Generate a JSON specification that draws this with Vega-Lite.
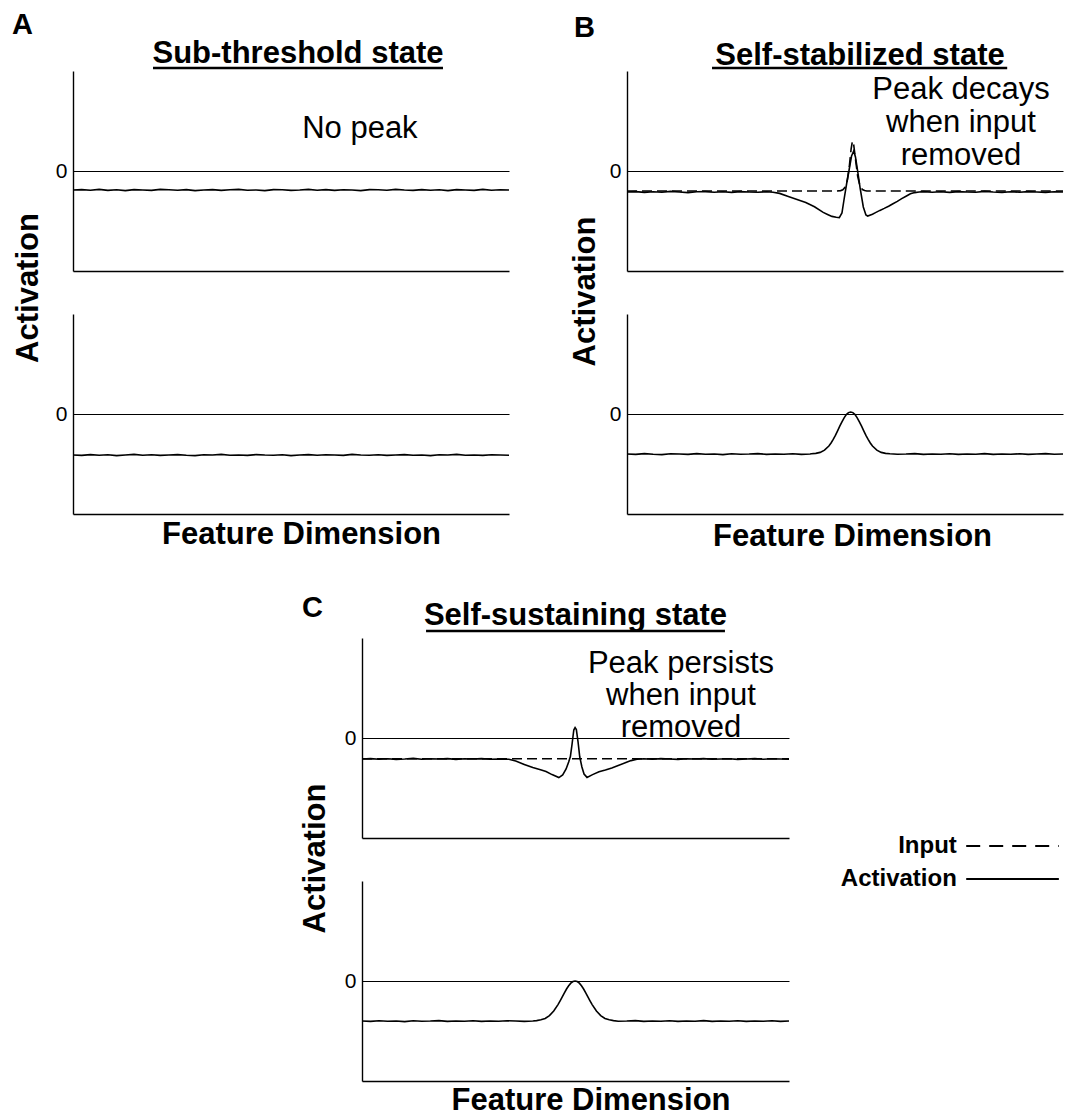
{
  "$schema": "https://vega.github.io/schema/vega-lite/v6.json",
  "background": "white",
  "padding": {"left": 12, "top": 11, "right": 5, "bottom": 5},
  "config": {
    "font": "Liberation Sans",
    "view": {"stroke": null},
    "axis": {"domainColor": "black", "domainWidth": 1.4, "labelColor": "black", "labelFontSize": 21, "labelPadding": 6, "ticks": false, "gridColor": "black", "gridWidth": 1, "gridOpacity": 1, "titleColor": "black", "titleFontSize": 31, "titleFontWeight": "bold"},
    "title": {"color": "black", "fontWeight": "bold"},
    "text": {"color": "black"}
  },
  "datasets": {
    "a1": [{"x":0,"y":-0.95},{"x":2,"y":-0.93},{"x":4,"y":-0.96},{"x":6,"y":-0.92},{"x":8,"y":-0.97},{"x":10,"y":-0.94},{"x":12,"y":-0.98},{"x":14,"y":-0.93},{"x":16,"y":-0.95},{"x":18,"y":-0.97},{"x":20,"y":-0.92},{"x":22,"y":-0.94},{"x":24,"y":-0.96},{"x":26,"y":-0.93},{"x":28,"y":-0.98},{"x":30,"y":-0.95},{"x":32,"y":-0.93},{"x":34,"y":-0.97},{"x":36,"y":-0.94},{"x":38,"y":-0.92},{"x":40,"y":-0.96},{"x":42,"y":-0.95},{"x":44,"y":-0.98},{"x":46,"y":-0.93},{"x":48,"y":-0.94},{"x":50,"y":-0.97},{"x":52,"y":-0.95},{"x":54,"y":-0.92},{"x":56,"y":-0.96},{"x":58,"y":-0.93},{"x":60,"y":-0.97},{"x":62,"y":-0.94},{"x":64,"y":-0.95},{"x":66,"y":-0.98},{"x":68,"y":-0.93},{"x":70,"y":-0.94},{"x":72,"y":-0.96},{"x":74,"y":-0.92},{"x":76,"y":-0.95},{"x":78,"y":-0.97},{"x":80,"y":-0.93},{"x":82,"y":-0.96},{"x":84,"y":-0.94},{"x":86,"y":-0.98},{"x":88,"y":-0.93},{"x":90,"y":-0.95},{"x":92,"y":-0.97},{"x":94,"y":-0.92},{"x":96,"y":-0.96},{"x":98,"y":-0.94},{"x":100,"y":-0.95}],
    "a2": [{"x":0,"y":-2.05},{"x":2,"y":-2.07},{"x":4,"y":-2.03},{"x":6,"y":-2.06},{"x":8,"y":-2.04},{"x":10,"y":-2.08},{"x":12,"y":-2.05},{"x":14,"y":-2.02},{"x":16,"y":-2.06},{"x":18,"y":-2.04},{"x":20,"y":-2.07},{"x":22,"y":-2.05},{"x":24,"y":-2.03},{"x":26,"y":-2.06},{"x":28,"y":-2.08},{"x":30,"y":-2.04},{"x":32,"y":-2.05},{"x":34,"y":-2.02},{"x":36,"y":-2.06},{"x":38,"y":-2.05},{"x":40,"y":-2.07},{"x":42,"y":-2.03},{"x":44,"y":-2.05},{"x":46,"y":-2.06},{"x":48,"y":-2.04},{"x":50,"y":-2.08},{"x":52,"y":-2.05},{"x":54,"y":-2.03},{"x":56,"y":-2.06},{"x":58,"y":-2.04},{"x":60,"y":-2.05},{"x":62,"y":-2.07},{"x":64,"y":-2.02},{"x":66,"y":-2.05},{"x":68,"y":-2.06},{"x":70,"y":-2.04},{"x":72,"y":-2.07},{"x":74,"y":-2.05},{"x":76,"y":-2.03},{"x":78,"y":-2.06},{"x":80,"y":-2.05},{"x":82,"y":-2.08},{"x":84,"y":-2.04},{"x":86,"y":-2.05},{"x":88,"y":-2.02},{"x":90,"y":-2.06},{"x":92,"y":-2.05},{"x":94,"y":-2.07},{"x":96,"y":-2.04},{"x":98,"y":-2.05},{"x":100,"y":-2.06}],
    "b1": [{"x":0,"y":-1.05},{"x":2,"y":-1.03},{"x":4,"y":-1.07},{"x":6,"y":-1.04},{"x":8,"y":-1.06},{"x":10,"y":-1.02},{"x":12,"y":-1.05},{"x":14,"y":-1.08},{"x":16,"y":-1.04},{"x":18,"y":-1.03},{"x":20,"y":-1.06},{"x":22,"y":-1.04},{"x":24,"y":-1.07},{"x":26,"y":-1.03},{"x":28,"y":-1.05},{"x":30,"y":-1.06},{"x":32,"y":-1.04},{"x":33.5,"y":-1.06},{"x":35,"y":-1.12},{"x":37,"y":-1.27},{"x":39,"y":-1.42},{"x":41,"y":-1.58},{"x":43,"y":-1.79},{"x":45,"y":-2.07},{"x":46,"y":-2.17},{"x":47,"y":-2.27},{"x":48,"y":-2.31},{"x":48.7,"y":-2.33},{"x":49.3,"y":-2.1},{"x":49.8,"y":-1.4},{"x":50.4,"y":-0.6},{"x":50.9,"y":0},{"x":51.5,"y":0.75},{"x":52,"y":1.0},{"x":52.4,"y":0.7},{"x":52.9,"y":0},{"x":53.5,"y":-0.9},{"x":54.2,"y":-1.8},{"x":54.8,"y":-2.2},{"x":55.2,"y":-2.25},{"x":56.3,"y":-2.16},{"x":57,"y":-2.08},{"x":58,"y":-1.97},{"x":59,"y":-1.87},{"x":60,"y":-1.76},{"x":61,"y":-1.64},{"x":62,"y":-1.52},{"x":63,"y":-1.38},{"x":64,"y":-1.26},{"x":65,"y":-1.14},{"x":66,"y":-1.08},{"x":67,"y":-1.05},{"x":68,"y":-1.03},{"x":70,"y":-1.06},{"x":72,"y":-1.04},{"x":74,"y":-1.07},{"x":76,"y":-1.03},{"x":78,"y":-1.05},{"x":80,"y":-1.06},{"x":82,"y":-1.02},{"x":84,"y":-1.05},{"x":86,"y":-1.07},{"x":88,"y":-1.04},{"x":90,"y":-1.06},{"x":92,"y":-1.03},{"x":94,"y":-1.05},{"x":96,"y":-1.07},{"x":98,"y":-1.04},{"x":100,"y":-1.05}],
    "b1in": [{"x":0,"y":-1.0},{"x":10,"y":-1.0},{"x":20,"y":-1.0},{"x":30,"y":-1.0},{"x":40,"y":-1.0},{"x":48,"y":-1.0},{"x":49,"y":-0.98},{"x":49.5,"y":-0.94},{"x":50,"y":-0.82},{"x":50.5,"y":-0.5},{"x":51,"y":0.25},{"x":51.4,"y":1.1},{"x":51.7,"y":1.5},{"x":52,"y":1.3},{"x":52.4,"y":0.6},{"x":52.9,"y":-0.25},{"x":53.4,"y":-0.72},{"x":54,"y":-0.93},{"x":54.5,"y":-0.98},{"x":55,"y":-1.0},{"x":60,"y":-1.0},{"x":70,"y":-1.0},{"x":80,"y":-1.0},{"x":90,"y":-1.0},{"x":100,"y":-1.0}],
    "b2": [{"x":0,"y":-2.0},{"x":2,"y":-2.02},{"x":4,"y":-1.98},{"x":6,"y":-2.01},{"x":8,"y":-2.03},{"x":10,"y":-1.99},{"x":12,"y":-2.0},{"x":14,"y":-2.02},{"x":16,"y":-1.98},{"x":18,"y":-2.01},{"x":20,"y":-2.0},{"x":22,"y":-2.03},{"x":24,"y":-1.99},{"x":26,"y":-2.01},{"x":28,"y":-2.0},{"x":30,"y":-1.98},{"x":32,"y":-2.02},{"x":34,"y":-2.0},{"x":36,"y":-2.01},{"x":38,"y":-1.99},{"x":40,"y":-2.02},{"x":42,"y":-2.0},{"x":42.3,"y":-1.99},{"x":43.3,"y":-1.97},{"x":44.3,"y":-1.92},{"x":45.3,"y":-1.81},{"x":46.3,"y":-1.6},{"x":46.8,"y":-1.45},{"x":47.3,"y":-1.27},{"x":47.8,"y":-1.07},{"x":48.3,"y":-0.84},{"x":48.8,"y":-0.61},{"x":49.3,"y":-0.39},{"x":49.8,"y":-0.19},{"x":50.3,"y":-0.03},{"x":50.8,"y":0.07},{"x":51.3,"y":0.1},{"x":51.8,"y":0.07},{"x":52.3,"y":-0.03},{"x":52.8,"y":-0.19},{"x":53.3,"y":-0.39},{"x":53.8,"y":-0.61},{"x":54.3,"y":-0.84},{"x":54.8,"y":-1.07},{"x":55.3,"y":-1.27},{"x":55.8,"y":-1.45},{"x":56.3,"y":-1.6},{"x":57.3,"y":-1.81},{"x":58.3,"y":-1.92},{"x":59.3,"y":-1.97},{"x":60.3,"y":-1.99},{"x":62,"y":-2.01},{"x":64,"y":-2.0},{"x":66,"y":-1.98},{"x":68,"y":-2.02},{"x":70,"y":-2.0},{"x":72,"y":-2.01},{"x":74,"y":-1.99},{"x":76,"y":-2.02},{"x":78,"y":-2.0},{"x":80,"y":-2.01},{"x":82,"y":-1.98},{"x":84,"y":-2.02},{"x":86,"y":-2.0},{"x":88,"y":-2.01},{"x":90,"y":-1.99},{"x":92,"y":-2.02},{"x":94,"y":-2.0},{"x":96,"y":-1.98},{"x":98,"y":-2.01},{"x":100,"y":-2.0}],
    "c1": [{"x":0,"y":-1.05},{"x":2,"y":-1.03},{"x":4,"y":-1.06},{"x":6,"y":-1.04},{"x":8,"y":-1.07},{"x":10,"y":-1.05},{"x":12,"y":-1.02},{"x":14,"y":-1.06},{"x":16,"y":-1.04},{"x":18,"y":-1.05},{"x":20,"y":-1.03},{"x":22,"y":-1.07},{"x":24,"y":-1.04},{"x":26,"y":-1.05},{"x":28,"y":-1.03},{"x":30,"y":-1.06},{"x":32,"y":-1.05},{"x":34.4,"y":-1.06},{"x":36,"y":-1.15},{"x":38,"y":-1.32},{"x":40,"y":-1.48},{"x":42,"y":-1.6},{"x":43.1,"y":-1.68},{"x":44.5,"y":-1.83},{"x":46.1,"y":-1.98},{"x":47,"y":-1.85},{"x":47.8,"y":-1.55},{"x":48.4,"y":-1.2},{"x":48.8,"y":-0.93},{"x":49.2,"y":-0.3},{"x":49.6,"y":0.4},{"x":49.9,"y":0.52},{"x":50.2,"y":0.42},{"x":50.6,"y":-0.2},{"x":51,"y":-0.95},{"x":51.5,"y":-1.45},{"x":52,"y":-1.8},{"x":52.7,"y":-1.97},{"x":54,"y":-1.83},{"x":55.5,"y":-1.69},{"x":57,"y":-1.6},{"x":58.5,"y":-1.5},{"x":60,"y":-1.38},{"x":61.8,"y":-1.23},{"x":63,"y":-1.13},{"x":64.4,"y":-1.06},{"x":66,"y":-1.04},{"x":68,"y":-1.06},{"x":70,"y":-1.03},{"x":72,"y":-1.05},{"x":74,"y":-1.07},{"x":76,"y":-1.04},{"x":78,"y":-1.05},{"x":80,"y":-1.03},{"x":82,"y":-1.06},{"x":84,"y":-1.05},{"x":86,"y":-1.04},{"x":88,"y":-1.07},{"x":90,"y":-1.05},{"x":92,"y":-1.03},{"x":94,"y":-1.06},{"x":96,"y":-1.04},{"x":98,"y":-1.05},{"x":100,"y":-1.06}],
    "c1in": [{"x":0,"y":-1.04},{"x":20,"y":-1.04},{"x":40,"y":-1.04},{"x":60,"y":-1.04},{"x":80,"y":-1.04},{"x":100,"y":-1.04}],
    "c2": [{"x":0,"y":-2.0},{"x":2,"y":-2.02},{"x":4,"y":-1.99},{"x":6,"y":-2.01},{"x":8,"y":-2.0},{"x":10,"y":-2.03},{"x":12,"y":-1.99},{"x":14,"y":-2.01},{"x":16,"y":-2.0},{"x":18,"y":-1.98},{"x":20,"y":-2.02},{"x":22,"y":-2.0},{"x":24,"y":-2.01},{"x":26,"y":-1.99},{"x":28,"y":-2.02},{"x":30,"y":-2.0},{"x":32,"y":-2.01},{"x":34,"y":-1.99},{"x":36,"y":-2.0},{"x":38,"y":-2.02},{"x":40,"y":-2.0},{"x":40.9,"y":-1.98},{"x":41.9,"y":-1.94},{"x":42.9,"y":-1.87},{"x":43.9,"y":-1.73},{"x":44.9,"y":-1.5},{"x":45.9,"y":-1.18},{"x":46.4,"y":-0.99},{"x":46.9,"y":-0.79},{"x":47.4,"y":-0.59},{"x":47.9,"y":-0.4},{"x":48.4,"y":-0.24},{"x":48.9,"y":-0.11},{"x":49.4,"y":-0.03},{"x":49.9,"y":0},{"x":50.4,"y":-0.03},{"x":50.9,"y":-0.11},{"x":51.4,"y":-0.24},{"x":51.9,"y":-0.4},{"x":52.4,"y":-0.59},{"x":52.9,"y":-0.79},{"x":53.4,"y":-0.99},{"x":53.9,"y":-1.18},{"x":54.9,"y":-1.5},{"x":55.9,"y":-1.73},{"x":56.9,"y":-1.87},{"x":57.9,"y":-1.94},{"x":58.9,"y":-1.98},{"x":60,"y":-2.01},{"x":62,"y":-2.0},{"x":64,"y":-1.98},{"x":66,"y":-2.02},{"x":68,"y":-2.0},{"x":70,"y":-2.01},{"x":72,"y":-1.99},{"x":74,"y":-2.02},{"x":76,"y":-2.0},{"x":78,"y":-2.01},{"x":80,"y":-1.98},{"x":82,"y":-2.02},{"x":84,"y":-2.0},{"x":86,"y":-2.01},{"x":88,"y":-1.99},{"x":90,"y":-2.02},{"x":92,"y":-2.0},{"x":94,"y":-2.01},{"x":96,"y":-1.99},{"x":98,"y":-2.02},{"x":100,"y":-2.0}],
    "legend": [{"series": "Input"}, {"series": "Activation"}]
  },
  "spacing": 42,
  "vconcat": [
    {
      "spacing": 56,
      "hconcat": [
        {
          "title": {"text": "A", "anchor": "start", "fontSize": 29, "offset": -2},
          "spacing": 43,
          "bounds": "flush",
          "vconcat": [
            {
              "width": 436, "height": 200,
              "title": {"text": "Sub-threshold state", "frame": "group", "anchor": "middle", "dx": 7, "offset": -3.5, "fontSize": 31},
              "layer": [
                {"data": {"name": "a1"}, "mark": {"type": "line", "color": "black", "strokeWidth": 1.6},
                 "encoding": {
                   "x": {"field": "x", "type": "quantitative", "scale": {"domain": [0, 100], "nice": false, "zero": false}, "axis": {"title": null, "labels": false, "ticks": false, "grid": false}},
                   "y": {"field": "y", "type": "quantitative", "scale": {"domain": [-5, 5], "nice": false, "zero": false}, "axis": {"values": [0], "grid": true, "title": "Activation", "titleX": -36, "titleY": 216.5, "titleBaseline": "alphabetic"}}
                 }},
                {"data": {"values": [{}]}, "mark": {"type": "text", "text": "No peak", "fontSize": 31, "align": "center", "baseline": "alphabetic"},
                 "encoding": {"x": {"datum": 65.8, "scale": {"domain": [0, 100], "nice": false}}, "y": {"datum": 1.65, "scale": {"domain": [-5, 5], "nice": false}}}},
                {"data": {"values": [{}]}, "mark": {"type": "rule", "color": "black", "strokeWidth": 2.5},
                 "encoding": {"x": {"datum": 18.35, "scale": {"domain": [0, 100], "nice": false}}, "x2": {"datum": 84.86}, "y": {"datum": 5.15, "scale": {"domain": [-5, 5], "nice": false}}}}
              ]
            },
            {
              "width": 436, "height": 200,
              "data": {"name": "a2"},
              "mark": {"type": "line", "color": "black", "strokeWidth": 1.6},
              "encoding": {
                "x": {"field": "x", "type": "quantitative", "scale": {"domain": [0, 100], "nice": false, "zero": false}, "axis": {"title": "Feature Dimension", "labels": false, "ticks": false, "grid": false, "titleX": 228, "titleY": 29, "titleBaseline": "alphabetic"}},
                "y": {"field": "y", "type": "quantitative", "scale": {"domain": [-5, 5], "nice": false, "zero": false}, "axis": {"values": [0], "grid": true, "title": null}}
              }
            }
          ]
        },
        {
          "title": {"text": "B", "anchor": "start", "fontSize": 29, "offset": -2.6, "dx": 5},
          "spacing": 43,
          "bounds": "flush",
          "vconcat": [
            {
              "width": 436, "height": 200,
              "title": {"text": "Self-stabilized state", "frame": "group", "anchor": "middle", "dx": 15, "offset": -5.5, "fontSize": 31},
              "layer": [
                {"data": {"name": "b1in"}, "mark": {"type": "line", "color": "black", "strokeWidth": 1.6, "strokeDash": [10, 5]},
                 "encoding": {
                   "x": {"field": "x", "type": "quantitative", "scale": {"domain": [0, 100], "nice": false, "zero": false}, "axis": {"title": null, "labels": false, "ticks": false, "grid": false}},
                   "y": {"field": "y", "type": "quantitative", "scale": {"domain": [-5, 5], "nice": false, "zero": false}, "axis": {"values": [0], "grid": true, "title": "Activation", "titleX": -33, "titleY": 220, "titleBaseline": "alphabetic"}}
                 }},
                {"data": {"name": "b1"}, "mark": {"type": "line", "color": "black", "strokeWidth": 1.6},
                 "encoding": {
                   "x": {"field": "x", "type": "quantitative", "scale": {"domain": [0, 100], "nice": false, "zero": false}},
                   "y": {"field": "y", "type": "quantitative", "scale": {"domain": [-5, 5], "nice": false, "zero": false}}
                 }},
                {"data": {"values": [{}]}, "mark": {"type": "text", "text": ["Peak decays", "when input", "removed"], "lineHeight": 33, "fontSize": 31, "align": "center", "baseline": "alphabetic"},
                 "encoding": {"x": {"datum": 76.6, "scale": {"domain": [0, 100], "nice": false}}, "y": {"datum": 3.6, "scale": {"domain": [-5, 5], "nice": false}}}},
                {"data": {"values": [{}]}, "mark": {"type": "rule", "color": "black", "strokeWidth": 2.5},
                 "encoding": {"x": {"datum": 19.5, "scale": {"domain": [0, 100], "nice": false}}, "x2": {"datum": 87.2}, "y": {"datum": 5.15, "scale": {"domain": [-5, 5], "nice": false}}}}
              ]
            },
            {
              "width": 436, "height": 200,
              "data": {"name": "b2"},
              "mark": {"type": "line", "color": "black", "strokeWidth": 1.6},
              "encoding": {
                "x": {"field": "x", "type": "quantitative", "scale": {"domain": [0, 100], "nice": false, "zero": false}, "axis": {"title": "Feature Dimension", "labels": false, "ticks": false, "grid": false, "titleX": 225, "titleY": 31, "titleBaseline": "alphabetic"}},
                "y": {"field": "y", "type": "quantitative", "scale": {"domain": [-5, 5], "nice": false, "zero": false}, "axis": {"values": [0], "grid": true, "title": null}}
              }
            }
          ]
        }
      ]
    },
    {
      "spacing": 20,
      "hconcat": [
        {
          "width": 206, "height": 10,
          "data": {"values": [{}]},
          "mark": {"type": "rect", "opacity": 0},
          "encoding": {}
        },
        {
          "title": {"text": "C", "anchor": "start", "fontSize": 29, "offset": -22.6, "dx": 3},
          "spacing": 43,
          "bounds": "flush",
          "vconcat": [
            {
              "width": 427, "height": 200,
              "title": {"text": "Self-sustaining state", "frame": "group", "anchor": "middle", "dx": 0, "offset": -2.5, "fontSize": 31},
              "resolve": {"scale": {"y": "independent"}},
              "layer": [
                {
                  "layer": [
                    {"data": {"name": "c1in"}, "mark": {"type": "line", "color": "black", "strokeWidth": 1.6, "strokeDash": [10, 5]},
                     "encoding": {
                       "x": {"field": "x", "type": "quantitative", "scale": {"domain": [0, 100], "nice": false, "zero": false}, "axis": {"title": null, "labels": false, "ticks": false, "grid": false}},
                       "y": {"field": "y", "type": "quantitative", "scale": {"domain": [-5, 5], "nice": false, "zero": false}, "axis": {"values": [0], "grid": true, "title": "Activation", "titleX": -38, "titleY": 220, "titleBaseline": "alphabetic"}}
                     }},
                    {"data": {"name": "c1"}, "mark": {"type": "line", "color": "black", "strokeWidth": 1.6},
                     "encoding": {
                       "x": {"field": "x", "type": "quantitative", "scale": {"domain": [0, 100], "nice": false, "zero": false}},
                       "y": {"field": "y", "type": "quantitative", "scale": {"domain": [-5, 5], "nice": false, "zero": false}}
                     }},
                    {"data": {"values": [{}]}, "mark": {"type": "text", "text": ["Peak persists", "when input", "removed"], "lineHeight": 32, "fontSize": 31, "align": "center", "baseline": "alphabetic"},
                     "encoding": {"x": {"datum": 74.7, "scale": {"domain": [0, 100], "nice": false}}, "y": {"datum": 3.25, "scale": {"domain": [-5, 5], "nice": false}}}},
                    {"data": {"values": [{}]}, "mark": {"type": "rule", "color": "black", "strokeWidth": 2.5},
                     "encoding": {"x": {"datum": 15.0, "scale": {"domain": [0, 100], "nice": false}}, "x2": {"datum": 85.0}, "y": {"datum": 5.35, "scale": {"domain": [-5, 5], "nice": false}}}}
                  ]
                },
                {
                  "data": {"name": "legend"},
                  "encoding": {
                    "y": {"field": "series", "type": "nominal", "scale": {"type": "point", "domain": ["Input", "Activation"], "range": [208, 241], "padding": 0}, "axis": null}
                  },
                  "layer": [
                    {"mark": {"type": "text", "align": "right", "baseline": "middle", "fontSize": 24, "fontWeight": "bold"},
                     "encoding": {"x": {"datum": 139.3, "scale": {"domain": [0, 100], "nice": false}}, "text": {"field": "series"}}},
                    {"mark": {"type": "rule", "color": "black", "strokeWidth": 2},
                     "encoding": {"x": {"datum": 141.5, "scale": {"domain": [0, 100], "nice": false}}, "x2": {"datum": 163.2},
                       "strokeDash": {"field": "series", "type": "nominal", "scale": {"domain": ["Input", "Activation"], "range": [[14, 9], [1, 0]]}, "legend": null}}}
                  ]
                }
              ]
            },
            {
              "width": 427, "height": 200,
              "data": {"name": "c2"},
              "mark": {"type": "line", "color": "black", "strokeWidth": 1.6},
              "encoding": {
                "x": {"field": "x", "type": "quantitative", "scale": {"domain": [0, 100], "nice": false, "zero": false}, "axis": {"title": "Feature Dimension", "labels": false, "ticks": false, "grid": false, "titleX": 228.5, "titleY": 28, "titleBaseline": "alphabetic"}},
                "y": {"field": "y", "type": "quantitative", "scale": {"domain": [-5, 5], "nice": false, "zero": false}, "axis": {"values": [0], "grid": true, "title": null}}
              }
            }
          ]
        }
      ]
    }
  ]
}
